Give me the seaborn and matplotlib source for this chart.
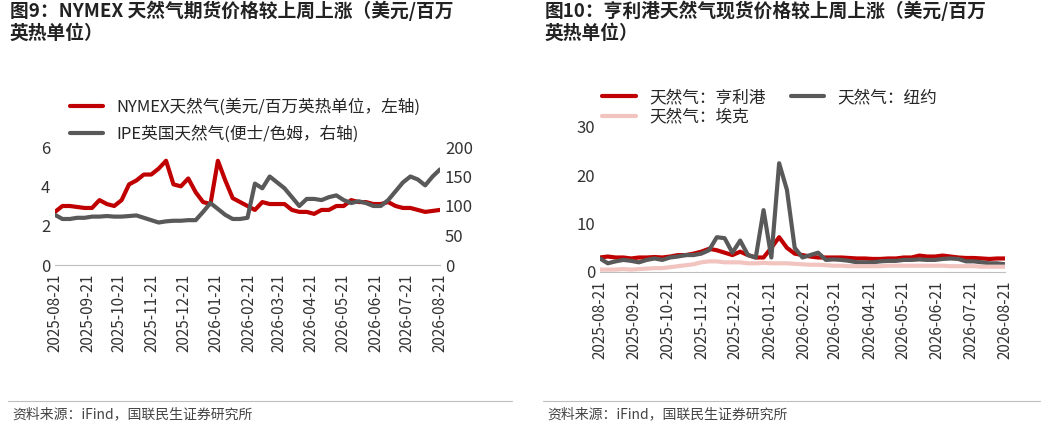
import matplotlib
matplotlib.use("Agg")
import matplotlib.pyplot as plt
import seaborn as sns
import pandas as pd
import numpy as np

sns.set_style("white")
plt.rcParams['font.family'] = ['Noto Sans CJK SC', 'DejaVu Sans']

nymex = [2.7,3.0,3.0,2.95,2.9,2.9,3.3,3.1,3.0,3.3,4.1,4.3,4.6,4.6,4.9,5.3,4.1,4.0,4.4,3.7,3.2,3.1,5.3,4.3,3.4,3.2,3.0,2.8,3.2,3.1,3.1,3.1,2.8,2.7,2.7,2.6,2.8,2.8,3.0,3.0,3.3,3.2,3.2,3.1,3.1,3.2,3.0,2.9,2.9,2.8,2.7,2.75,2.8]
ipe = [85,78,78,80,80,82,82,83,82,82,83,84,80,76,72,74,75,75,76,76,90,105,95,85,78,78,80,138,130,150,140,130,115,100,112,112,110,115,118,110,105,108,105,100,100,110,125,140,150,145,135,150,162]
hengli = [3,3.2,3,3,2.8,3,3,3.1,3,3.2,3.5,3.5,3.8,4.2,4.8,4.5,4,3.5,4.2,3.5,3,3,5,7.2,5,3.8,3.5,3.2,3,3,3,3,2.9,2.8,2.8,2.7,2.7,2.8,2.8,3,3,3.4,3.2,3.2,3.4,3.2,3,2.9,2.9,2.8,2.7,2.8,2.8]
newyork = [2.8,1.8,2.2,2.5,2.3,2,2.5,2.8,2.5,3,3.2,3.5,3.5,3.8,4.5,7.2,7,4,6.5,3.5,3,12.8,3,22.5,17,5,3,3.5,4,2.5,2.6,2.5,2.3,2,2,2,2.2,2.3,2.3,2.5,2.5,2.6,2.5,2.5,2.7,2.8,2.7,2.2,2.2,2,1.8,1.8,1.6]
dutch = [0.5,0.5,0.5,0.6,0.5,0.6,0.7,0.8,0.8,1.0,1.2,1.4,1.6,2.0,2.2,2.2,2.0,2.0,2.0,1.8,1.8,1.9,1.8,1.8,1.8,1.7,1.6,1.5,1.5,1.4,1.3,1.3,1.2,1.2,1.2,1.2,1.2,1.3,1.3,1.3,1.3,1.3,1.3,1.3,1.3,1.2,1.2,1.2,1.2,1.1,1.1,1.1,1.1]
tick_dates = pd.date_range("2025-08-21", "2026-08-21", freq=pd.DateOffset(months=1))

def dates(n):
    return pd.date_range("2025-08-21", "2026-08-21", periods=n)

RED, GRAY, PINK = "#C00000", "#595959", "#F2C4C0"
fig = plt.figure(figsize=(10.44, 4.28), dpi=100)

def fmt_x(ax):
    ax.set_xticks(tick_dates)
    ax.set_xticklabels([d.strftime("%Y-%m-%d") for d in tick_dates], rotation=90, fontsize=11, color="#333333")
    ax.set_xlim(tick_dates[0], tick_dates[-1])
    ax.set_xlabel(""); ax.set_ylabel("")
    for s in ["top", "right", "left"]:
        ax.spines[s].set_visible(False)
    ax.spines["bottom"].set_color("#BFBFBF")
    ax.tick_params(axis="y", labelsize=12, colors="#333333", length=0)
    ax.tick_params(axis="x", length=0, pad=6)

ax1 = fig.add_axes([55/1044, 1-265/428, 385/1044, 118/428])
sns.lineplot(x=dates(len(nymex)), y=nymex, ax=ax1, color=RED, lw=3, label="NYMEX天然气(美元/百万英热单位，左轴)", legend=False)
ax1.set_ylim(0, 6); ax1.set_yticks([0, 2, 4, 6])
ax1b = ax1.twinx()
sns.lineplot(x=dates(len(ipe)), y=ipe, ax=ax1b, color=GRAY, lw=3, label="IPE英国天然气(便士/色姆，右轴)", legend=False)
ax1b.set_ylim(0, 200); ax1b.set_yticks([0, 50, 100, 150, 200])
ax1b.set_ylabel("")
fmt_x(ax1)
for s in ["top", "right", "left", "bottom"]:
    ax1b.spines[s].set_visible(False)
ax1b.tick_params(axis="y", labelsize=12, colors="#333333", length=0)
h1, l1 = ax1.get_legend_handles_labels(); h2, l2 = ax1b.get_legend_handles_labels()
fig.legend(h1 + h2, l1 + l2, loc="upper left", bbox_to_anchor=(55/1044, 1-83/428), frameon=False, fontsize=12, handlelength=2, labelspacing=0.6)

ax2 = fig.add_axes([600/1044, 1-272/428, 405/1044, 145/428])
sns.lineplot(x=dates(len(hengli)), y=hengli, ax=ax2, color=RED, lw=3, label="天然气：亨利港")
sns.lineplot(x=dates(len(newyork)), y=newyork, ax=ax2, color=GRAY, lw=3, label="天然气：纽约")
sns.lineplot(x=dates(len(dutch)), y=dutch, ax=ax2, color=PINK, lw=3, label="天然气：埃克")
ax2.set_ylim(0, 30); ax2.set_yticks([0, 10, 20, 30])
fmt_x(ax2)
h, l = ax2.get_legend_handles_labels()
order = [0, 2, 1]
ax2.legend([h[i] for i in order], [l[i] for i in order], loc="upper left", bbox_to_anchor=(600/1044 - 0.012, 1-74/428), bbox_transform=fig.transFigure, ncol=2, frameon=False, fontsize=12, handlelength=2, columnspacing=1.5, labelspacing=0.15)

fig.text(10/1044, 1-22/428, "图9：NYMEX 天然气期货价格较上周上涨（美元/百万\n英热单位）", fontsize=13.5, fontweight="bold", va="center", color="#222222", linespacing=1.2)
fig.text(545/1044, 1-22/428, "图10：亨利港天然气现货价格较上周上涨（美元/百万\n英热单位）", fontsize=13.5, fontweight="bold", va="center", color="#222222", linespacing=1.2)
for x0, x1 in [(8, 512), (543, 1040)]:
    fig.add_artist(plt.Line2D([x0/1044, x1/1044], [1-401/428]*2, color="#BFBFBF", lw=0.8))
fig.text(12/1044, 1-414/428, "资料来源：iFind，国联民生证券研究所", fontsize=10, va="center", color="#444444")
fig.text(547/1044, 1-414/428, "资料来源：iFind，国联民生证券研究所", fontsize=10, va="center", color="#444444")

fig.savefig("out.png", dpi=100)
